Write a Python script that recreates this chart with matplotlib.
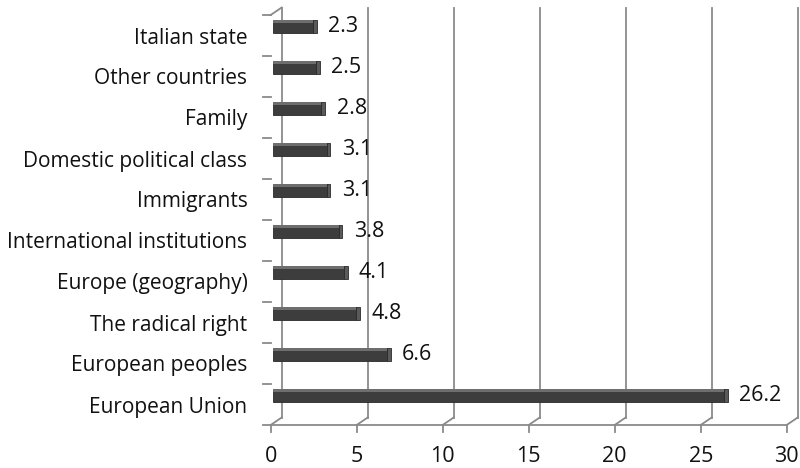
import matplotlib
matplotlib.use('Agg')
import matplotlib.pyplot as plt
import matplotlib.transforms as mtransforms
from matplotlib.lines import Line2D

categories = ['European Union', 'European peoples', 'The radical right', 'Europe (geography)',
              'International institutions', 'Immigrants', 'Domestic political class',
              'Family', 'Other countries', 'Italian state']
values = [26.2, 6.6, 4.8, 4.1, 3.8, 3.1, 3.1, 2.8, 2.5, 2.3]
xticks = [0, 5, 10, 15, 20, 25, 30]

plt.rcParams['font.family'] = ['Open Sans', 'DejaVu Sans']

fig = plt.figure(figsize=(8, 4.68), dpi=100)
ax = fig.add_axes([270.7 / 800, 43 / 468, 516 / 800, 410 / 468])
ax.set_xlim(0, 30)
ax.set_ylim(-0.5, len(categories) - 0.5)
ax.axis('off')

grid_col = '#8a8a8a'
# 3d depth of the back wall, in pixels
dx, dy = 11, 7.5
back = mtransforms.ScaledTranslation(dx / 100, dy / 100, fig.dpi_scale_trans)

def pix(x, y):
    return ax.transData.transform((x, y))

def seg(p0, p1, **kw):
    fig.add_artist(Line2D([p0[0], p1[0]], [p0[1], p1[1]], transform=None,
                          color=grid_col, lw=1.3, **kw))

# back wall gridlines
for t in xticks:
    ax.plot([t, t], [-0.5, len(categories) - 0.5], color=grid_col, lw=1.3,
            transform=ax.transData + back, clip_on=False, zorder=1)
    p = pix(t, -0.5)
    seg(p, (p[0] + dx, p[1] + dy))
    seg(p, (p[0], p[1] - 7))

# floor front edge
seg(pix(0, -0.5), pix(30, -0.5))

# left axis ticks
for k in range(len(categories) + 1):
    p = pix(0, k - 0.5)
    seg((p[0] - 8, p[1]), p)
ptop = pix(0, len(categories) - 0.5)
seg(ptop, (ptop[0] + dx, ptop[1] + dy))

# bars
ypos = list(range(len(categories)))
bar_shift = mtransforms.ScaledTranslation(2.5 / 100, 9 / 100, fig.dpi_scale_trans)
bt = ax.transData + bar_shift
bh = 0.34
ax.barh(ypos, values, height=bh, color='#3d3d3d', edgecolor='#2a2a2a', lw=0.6,
        transform=bt, zorder=3)
ax.barh([y + bh / 2 - 0.04 for y in ypos], values, height=0.08, color='#6e6e6e',
        lw=0, transform=bt, zorder=4)
ax.barh(ypos, [0.22] * len(values), left=values, height=bh, color='#5a5a5a',
        edgecolor='#2a2a2a', lw=0.6, transform=bt, zorder=3)

for y, v in zip(ypos, values):
    ax.annotate(f'{v:.1f}', (v, y), xytext=(11, 0), textcoords='offset points',
                xycoords=bt, ha='left', va='center', fontsize=15.5, color='#111111')

# category labels
lab_shift = ax.transData + mtransforms.ScaledTranslation(0, -0.025, fig.dpi_scale_trans)
for y, c in zip(ypos, categories):
    ax.text(-1.35, y, c, ha='right', va='center', fontsize=15, color='#111111',
            transform=lab_shift)

for t in xticks:
    ax.text(t, -0.5, str(t), ha='center', va='top', fontsize=15.5, color='#111111',
            transform=ax.transData + mtransforms.ScaledTranslation(0, -0.21, fig.dpi_scale_trans))

fig.savefig('out.png', dpi=100)
